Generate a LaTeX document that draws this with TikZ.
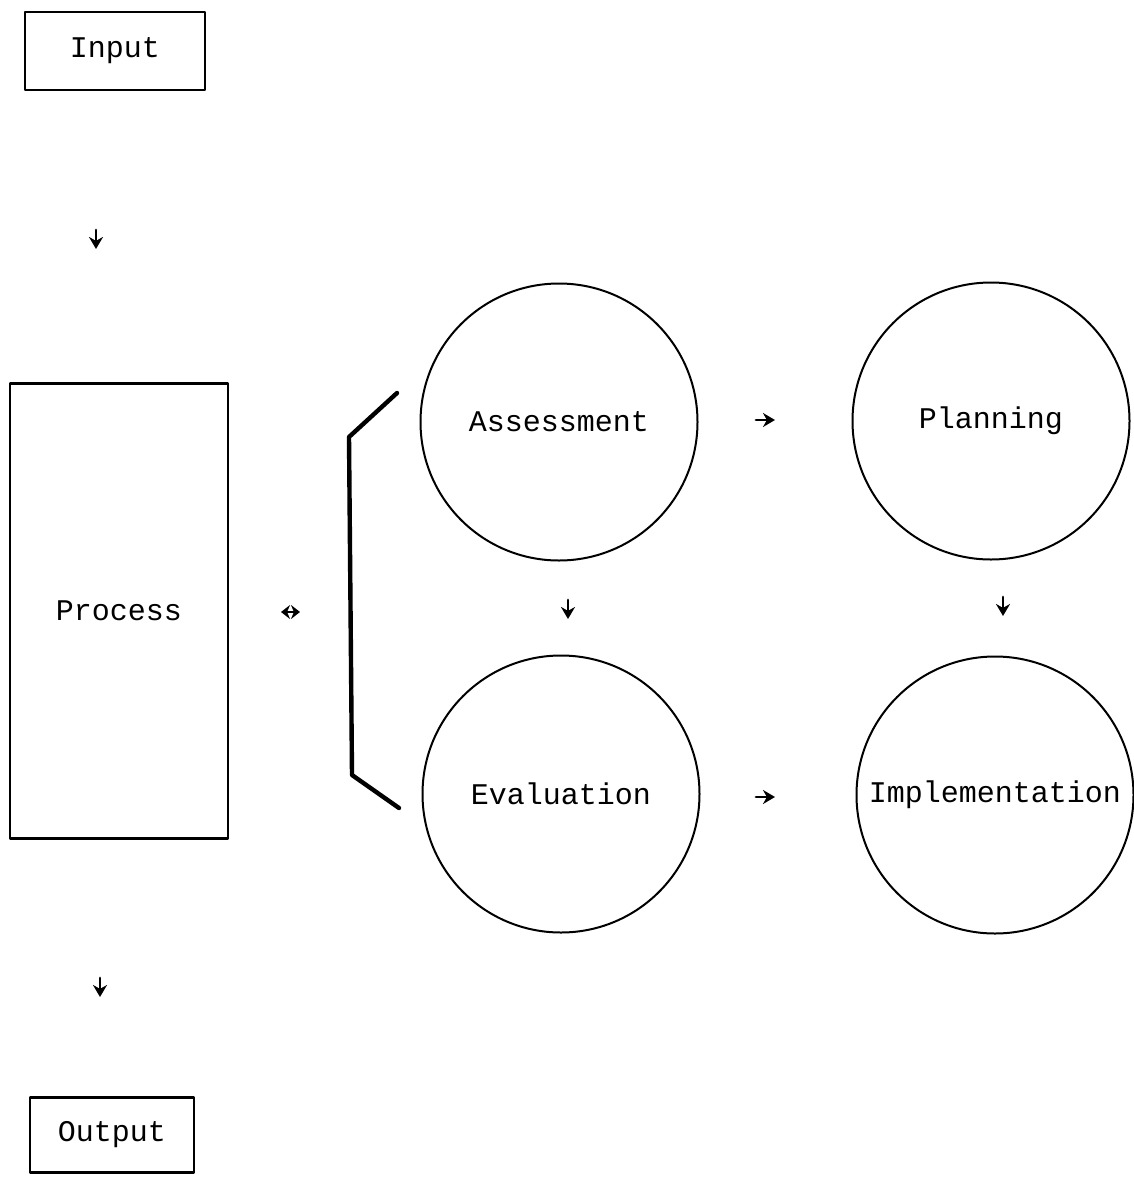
\documentclass[tikz,border=0pt]{standalone}
\usepackage{fontspec}
\setmonofont{Liberation Mono}
\usetikzlibrary{arrows.meta}
\tikzset{
  caja/.style={draw, line width=1.3pt, inner sep=0pt},
  circulo/.style={draw, circle, line width=1pt, minimum size=138.5pt, inner sep=0pt},
  flecha/.style={line width=1.4pt, -{Stealth[length=6pt,width=7pt]}},
  dobleflecha/.style={line width=1.4pt, {Stealth[length=4.5pt,width=7pt]}-{Stealth[length=4.5pt,width=7pt]}},
}
\begin{document}
\begin{tikzpicture}[x=0.5pt, y=-0.5pt, line cap=round, line join=round,
    every node/.style={font=\ttfamily\fontsize{15}{18}\selectfont}]
  \useasboundingbox (0,0) rectangle (1134,1183);
  % las cajas
  \node[caja, minimum width=90pt, minimum height=39pt] (input) at (115,51) {Input};
  \node[caja, minimum width=109pt, minimum height=227.5pt] (process) at (119,611) {Process};
  \node[caja, minimum width=82pt, minimum height=37.5pt] (output) at (112,1135) {Output};
  % los circulos
  \node[circulo] (assess) at (559,422) {Assessment};
  \node[circulo] (plan) at (991,421) {Planning};
  \node[circulo] (eval) at (561,794) {Evaluation};
  \node[circulo] (impl) at (995,795) {Implementation};
  % el corchete
  \draw[line width=2.2pt] (397,393) -- (349,437) -- (352,775) -- (399,808);
  % las flechitas
  \coordinate (a1) at (96,230); \coordinate (a2) at (96,249);
  \coordinate (b1) at (100,978); \coordinate (b2) at (100,997);
  \coordinate (c1) at (281,612); \coordinate (c2) at (300,612);
  \coordinate (d1) at (756,420); \coordinate (d2) at (775,420);
  \coordinate (e1) at (756,797); \coordinate (e2) at (775,797);
  \coordinate (f1) at (568,600); \coordinate (f2) at (568,619);
  \coordinate (g1) at (1003,597); \coordinate (g2) at (1003,616);
  \draw[flecha] (a1) -- (a2); \draw[flecha] (b1) -- (b2);
  \draw[dobleflecha] (c1) -- (c2);
  \draw[flecha] (d1) -- (d2); \draw[flecha] (e1) -- (e2);
  \draw[flecha] (f1) -- (f2); \draw[flecha] (g1) -- (g2);
\end{tikzpicture}
\end{document}
